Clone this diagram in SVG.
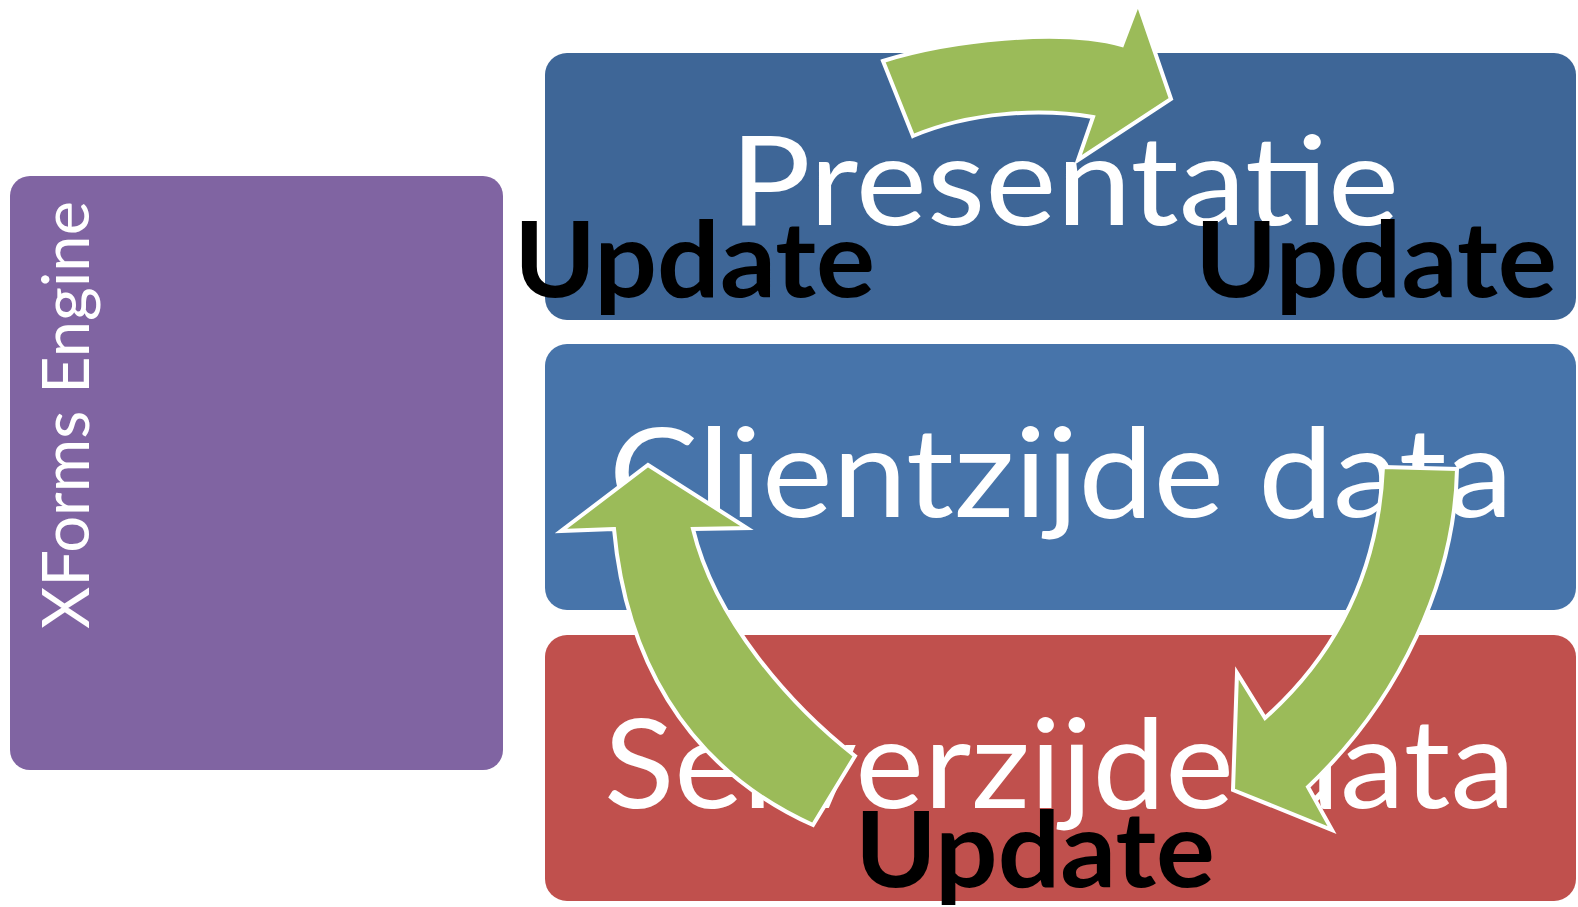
<svg xmlns="http://www.w3.org/2000/svg" width="1578" height="907" viewBox="0 0 1578 907">
  <style>
    .box-text { font-family: Lato, "Open Sans", "Liberation Sans", sans-serif; fill: #ffffff; }
    .upd { font-family: Lato, "Open Sans", "Liberation Sans", sans-serif; font-weight: bold; fill: #000000; font-size: 106px; }
    .arrow { fill: #9BBB59; stroke: #ffffff; stroke-width: 4; stroke-linejoin: miter; }
  </style>
  <rect width="1578" height="907" fill="#ffffff"/>
  <g id="engine">
    <rect x="10" y="176" width="493" height="594" rx="20" ry="20" fill="#8064A2"/>
    <text class="box-text" transform="translate(88.5,629) rotate(-90)" x="0" y="0" font-size="66" textLength="428" lengthAdjust="spacingAndGlyphs">XForms Engine</text>
  </g>
  <g id="presentatie">
    <rect x="545" y="53" width="1031" height="267" rx="22" ry="22" fill="#3E6697"/>
    <text class="box-text" x="730" y="225" font-size="124" textLength="669" lengthAdjust="spacingAndGlyphs">Presentatie</text>
  </g>
  <g id="clientzijde">
    <rect x="545" y="344" width="1031" height="266" rx="22" ry="22" fill="#4774AA"/>
    <text class="box-text" x="609" y="517" font-size="124" textLength="904" lengthAdjust="spacingAndGlyphs">Clientzijde data</text>
  </g>
  <g id="serverzijde">
    <rect x="545" y="635" width="1031" height="266" rx="22" ry="22" fill="#C0504D"/>
    <text class="box-text" x="604" y="808" font-size="124" textLength="911" lengthAdjust="spacingAndGlyphs">Serverzijde data</text>
  </g>
  <g id="connectors">
    <path class="arrow" d="M883,61 C950,40 1060,28 1122,45 L1138,3 L1171,99 L1078,160 L1093,117 C1040,108 970,112 913,136 Z"/>
    <path class="arrow" d="M1383,467 L1457,469 C1455,580 1400,700 1308,787 L1332,830 L1233,790 L1237,673 L1265,718 C1330,660 1378,580 1383,467 Z"/>
    <path class="arrow" d="M614,529 L561,531 L648,465 L747,528 L693,529 C715,620 790,705 855,756 L813,825 C680,765 625,650 614,529 Z"/>
  </g>
  <g id="labels">
    <text class="upd" x="514" y="297" textLength="361" lengthAdjust="spacingAndGlyphs">Update</text>
    <text class="upd" x="1195" y="297" textLength="362" lengthAdjust="spacingAndGlyphs">Update</text>
    <text class="upd" x="855" y="887" textLength="360" lengthAdjust="spacingAndGlyphs">Update</text>
  </g>
</svg>
